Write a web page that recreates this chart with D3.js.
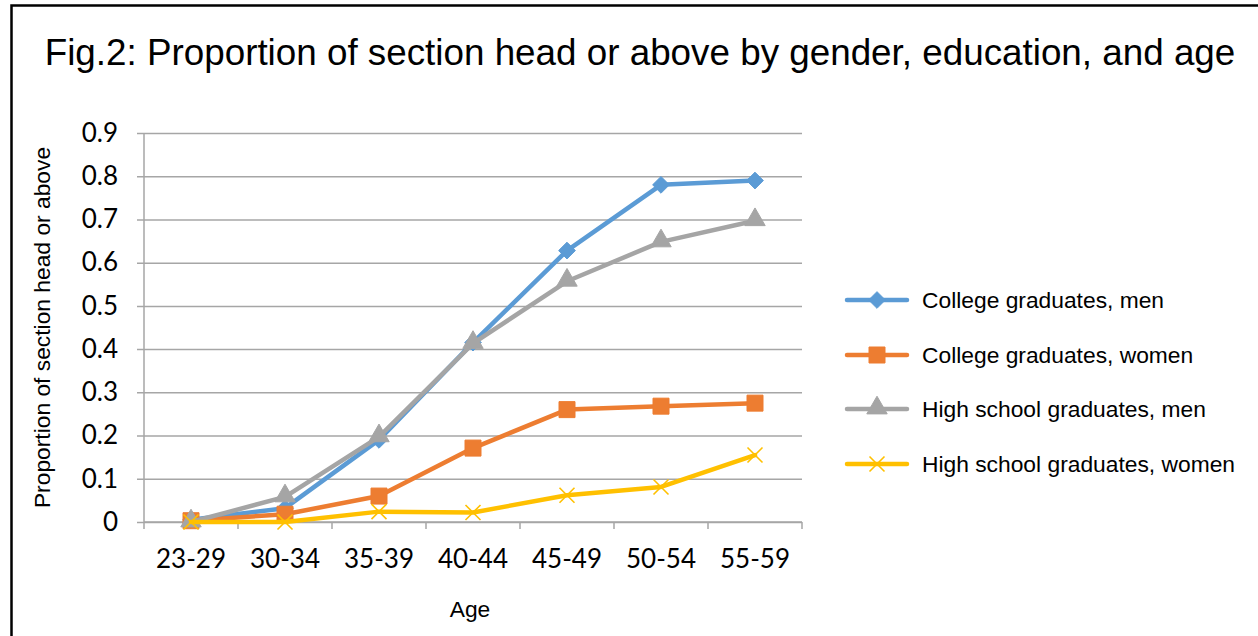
<!DOCTYPE html>
<html>
<head>
<meta charset="utf-8">
<script src="https://cdn.jsdelivr.net/npm/d3@7"></script>
<style>
  html, body { margin: 0; padding: 0; background: #fff; }
  svg { display: block; }
</style>
</head>
<body>
<svg id="chart" width="1258" height="636"></svg>
<script>
// Age groups on the x axis
const ageGroups = ["23-29", "30-34", "35-39", "40-44", "45-49", "50-54", "55-59"];

// Proportion holding section head or above, by group
const collegeMen     = [0.005, 0.032, 0.19, 0.415, 0.628, 0.78, 0.79];
const collegeWomen   = [0.003, 0.018, 0.06, 0.171, 0.26, 0.268, 0.275];
const highSchoolMen  = [0.0, 0.058, 0.197, 0.413, 0.557, 0.648, 0.697];
const highSchoolWomen = [0.0, 0.0, 0.024, 0.022, 0.062, 0.081, 0.155];

const seriesNames = [
  "College graduates, men",
  "College graduates, women",
  "High school graduates, men",
  "High school graduates, women"
];
const seriesColors = ["#5b9bd5", "#ed7d31", "#a5a5a5", "#ffc000"];
const seriesMarkers = ["diamond", "square", "triangle", "cross"];

const yTicks = [0, 0.1, 0.2, 0.3, 0.4, 0.5, 0.6, 0.7, 0.8, 0.9];

const series = [collegeMen, collegeWomen, highSchoolMen, highSchoolWomen].map((vals, i) => ({
  name: seriesNames[i],
  color: seriesColors[i],
  marker: seriesMarkers[i],
  values: vals
}));

const svg = d3.select("#chart");

// outer frame
svg.append("path")
  .attr("d", "M11.5,650 L11.5,5.5 L1270,5.5")
  .attr("fill", "none")
  .attr("stroke", "#000")
  .attr("stroke-width", 2.5);

const sansFont = "Liberation Sans, Arial, sans-serif";
const tickFont = "Lato, Carlito, Calibri, sans-serif";

// title
svg.append("text")
  .attr("x", 640)
  .attr("y", 65)
  .attr("text-anchor", "middle")
  .attr("font-family", sansFont)
  .attr("font-size", 36.8)
  .attr("fill", "#000")
  .text("Fig.2: Proportion of section head or above by gender, education, and age");

const plot = { left: 144, right: 802, top: 133, bottom: 522 };

const x = d3.scaleBand().domain(ageGroups).range([plot.left, plot.right]).padding(0);
const y = d3.scaleLinear().domain([0, 0.9]).range([plot.bottom, plot.top]);

const gridColor = "#a6a6a6";

// horizontal gridlines with y tick labels
const yAxis = d3.axisLeft(y)
  .tickValues(yTicks)
  .tickSize(-(plot.right - plot.left))
  .tickSizeOuter(0)
  .tickPadding(26)
  .tickFormat(d => d === 0 ? "0" : d3.format(".1f")(d));

const yg = svg.append("g")
  .attr("transform", `translate(${plot.left},0)`)
  .call(yAxis);
yg.select(".domain").remove();
yg.selectAll(".tick line")
  .attr("x1", -7)
  .attr("stroke", gridColor)
  .attr("stroke-width", 1.5);
yg.selectAll(".tick text")
  .attr("font-family", tickFont)
  .attr("font-size", 26)
  .attr("fill", "#000");

// vertical axis line
svg.append("line")
  .attr("x1", plot.left).attr("x2", plot.left)
  .attr("y1", plot.top).attr("y2", plot.bottom)
  .attr("stroke", gridColor)
  .attr("stroke-width", 1.5);

// x axis with ticks at category boundaries
const xg = svg.append("g")
  .attr("transform", `translate(0,${plot.bottom})`)
  .call(d3.axisBottom(x).tickSize(0).tickPadding(28));
xg.select(".domain").remove();
xg.selectAll(".tick text")
  .attr("font-family", tickFont)
  .attr("font-size", 26)
  .attr("fill", "#000");

const boundaries = ageGroups.map(g => x(g)).concat([x(ageGroups[ageGroups.length - 1]) + x.bandwidth()]);
svg.append("g")
  .selectAll("line")
  .data(boundaries)
  .join("line")
  .attr("x1", d => d).attr("x2", d => d)
  .attr("y1", plot.bottom).attr("y2", plot.bottom + 7)
  .attr("stroke", gridColor)
  .attr("stroke-width", 1.5);
svg.append("line")
  .attr("x1", plot.left).attr("x2", plot.right)
  .attr("y1", plot.bottom).attr("y2", plot.bottom)
  .attr("stroke", gridColor)
  .attr("stroke-width", 1.5);

// axis titles
svg.append("text")
  .attr("transform", `translate(50,${(plot.top + plot.bottom) / 2}) rotate(-90)`)
  .attr("text-anchor", "middle")
  .attr("font-family", sansFont)
  .attr("font-size", 22.8)
  .attr("fill", "#000")
  .text("Proportion of section head or above");

svg.append("text")
  .attr("x", (plot.left + plot.right) / 2 - 3)
  .attr("y", 617)
  .attr("text-anchor", "middle")
  .attr("font-family", sansFont)
  .attr("font-size", 22.8)
  .attr("fill", "#000")
  .text("Age");

// marker drawing
function drawMarker(sel, type, color, size) {
  if (type === "cross") {
    const h = size / 2;
    sel.append("path")
      .attr("d", `M${-h},${-h}L${h},${h}M${-h},${h}L${h},${-h}`)
      .attr("stroke", color)
      .attr("stroke-width", 1.6)
      .attr("fill", "none");
  } else {
    const sym = { diamond: d3.symbolDiamond2, square: d3.symbolSquare, triangle: d3.symbolTriangle }[type];
    const area = { diamond: size * size * 0.55, square: size * size, triangle: size * size * 0.5 }[type];
    sel.append("path")
      .attr("d", d3.symbol(sym, area)())
      .attr("transform", type === "triangle" ? "translate(0,-1)" : null)
      .attr("fill", color)
      .attr("stroke", color)
      .attr("stroke-width", 1);
  }
}

const line = d3.line()
  .x((d, i) => x(ageGroups[i]) + x.bandwidth() / 2)
  .y(d => y(d));

const markerSize = { diamond: 18, square: 16, triangle: 19, cross: 15 };

series.forEach(s => {
  svg.append("path")
    .datum(s.values)
    .attr("d", line)
    .attr("fill", "none")
    .attr("stroke", s.color)
    .attr("stroke-width", 4.5)
    .attr("stroke-linejoin", "round")
    .attr("stroke-linecap", "round");
  svg.append("g")
    .selectAll("g")
    .data(s.values)
    .join("g")
    .attr("transform", (d, i) => `translate(${x(ageGroups[i]) + x.bandwidth() / 2},${y(d)})`)
    .each(function () { drawMarker(d3.select(this), s.marker, s.color, markerSize[s.marker]); });
});

// legend
const legend = svg.append("g");
const legendRows = [300, 355, 409, 464];
series.forEach((s, i) => {
  const g = legend.append("g").attr("transform", `translate(847,${legendRows[i]})`);
  g.append("line")
    .attr("x1", 0).attr("x2", 60)
    .attr("stroke", s.color)
    .attr("stroke-width", 4.5)
    .attr("stroke-linecap", "round");
  const m = g.append("g").attr("transform", "translate(30,0)");
  drawMarker(m, s.marker, s.color, markerSize[s.marker]);
  g.append("text")
    .attr("x", 75)
    .attr("y", 8)
    .attr("font-family", sansFont)
    .attr("font-size", 22.8)
    .attr("fill", "#000")
    .text(s.name);
});
</script>
</body>
</html>
